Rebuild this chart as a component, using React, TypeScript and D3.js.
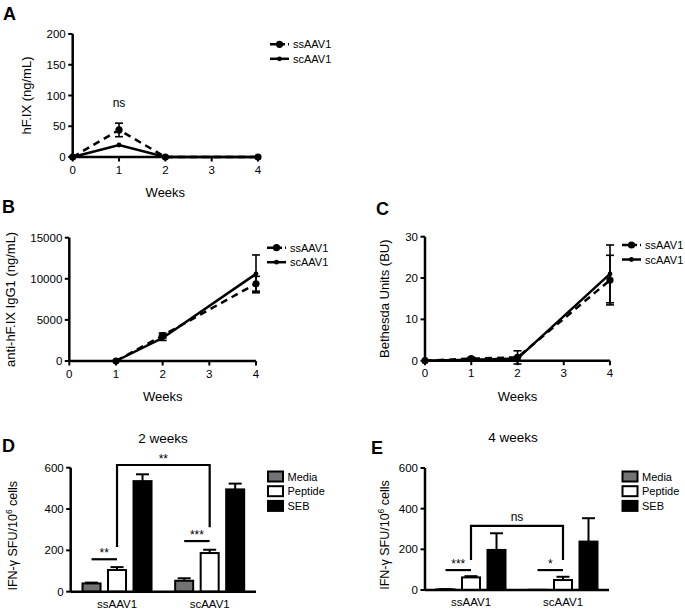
import React from 'react';
import * as d3 from 'd3';

const FONT = '"Liberation Sans", Arial, Helvetica, sans-serif';

// ---------- Line chart data ----------
const weekTicks = [0, 1, 2, 3, 4];
const seriesNames = ['ssAAV1', 'scAAV1'];

const aWeeks = [0, 1, 2, 4];
const aSs = [0, 44, 0, 0];
const aSsErr = [0, 11, 0, 0];
const aSc = [0, 19.5, 0, 0];
const aScErr = [0, 0, 0, 0];
const aYTicks = [0, 50, 100, 150, 200];

const bWeeks = [1, 2, 4];
const bSs = [0, 3100, 9400];
const bSsErr = [0, 300, 900];
const bSc = [0, 2800, 10600];
const bScErr = [0, 300, 2300];
const bYTicks = [0, 5000, 10000, 15000];

const cWeeks = [0, 1, 2, 4];
const cSs = [0, 0.5, 0.8, 19.5];
const cSsErr = [0, 0.3, 1.6, 6];
const cSc = [0, 0.2, 0.5, 21];
const cScErr = [0, 0.1, 0.5, 7];
const cYTicks = [0, 10, 20, 30];

// ---------- Bar chart data ----------
const groups = ['ssAAV1', 'scAAV1'];
const stimuli = ['Media', 'Peptide', 'SEB'];
const stimColors = ['#737373', '#ffffff', '#000000'];
const barYTicks = [0, 200, 400, 600];

const d2Media = [40, 53];
const d2MediaErr = [4, 12];
const d2Peptide = [105, 187];
const d2PeptideErr = [14, 16];
const d2SEB = [535, 495];
const d2SEBErr = [33, 28];

const d4Media = [3, 1];
const d4MediaErr = [1, 0];
const d4Peptide = [62, 49];
const d4PeptideErr = [6, 16];
const d4SEB = [197, 238];
const d4SEBErr = [82, 115];

// significance: within-group (Media vs Peptide) labels and levels
const d2Within = ['**', '***'];
const d2WithinLevel = [157, 245];
const d2Bracket = { label: '**', top: 613, left: 216, right: 312 };
const d4Within = ['***', '*'];
const d4WithinLevel = [98, 98];
const d4Bracket = { label: 'ns', top: 315, left: 148, right: 148 };

type Series = { x: number[]; y: number[]; err: number[]; dashed: boolean; big: boolean };

function LinePanel(props: {
  left: number; right: number; top: number; bottom: number;
  yMax: number; yTicks: number[]; series: Series[]; yLabel: string; yLabelX: number;
  legendX: number; legendY: number; letter: string; letterX: number; letterY: number;
  ns?: boolean;
}) {
  const { left, right, top, bottom, yMax, yTicks, series, yLabel, yLabelX, legendX, legendY, letter, letterX, letterY } = props;
  const x = d3.scaleLinear().domain([0, 4]).range([left, right]);
  const y = d3.scaleLinear().domain([0, yMax]).range([bottom, top]);
  return (
    <g>
      <text x={letterX} y={letterY} fontSize={18} fontWeight="bold" fontFamily={FONT}>{letter}</text>
      {/* axes */}
      <line x1={left} x2={left} y1={top} y2={bottom} stroke="#000" strokeWidth={2.5} />
      <line x1={left} x2={right} y1={bottom} y2={bottom} stroke="#000" strokeWidth={2.5} />
      {yTicks.map((t) => (
        <g key={'y' + t}>
          <line x1={left - 4.5} x2={left} y1={y(t)} y2={y(t)} stroke="#000" strokeWidth={2} />
          <text x={left - 7} y={y(t) + 4} textAnchor="end" fontSize={11.5} fontFamily={FONT}>{t}</text>
        </g>
      ))}
      {weekTicks.map((t) => (
        <g key={'x' + t}>
          <line x1={x(t)} x2={x(t)} y1={bottom} y2={bottom + 4.5} stroke="#000" strokeWidth={2} />
          <text x={x(t)} y={bottom + 16.5} textAnchor="middle" fontSize={11.5} fontFamily={FONT}>{t}</text>
        </g>
      ))}
      <text x={(left + right) / 2} y={bottom + 40} textAnchor="middle" fontSize={13} fontFamily={FONT}>Weeks</text>
      <text transform={`translate(${yLabelX},${(top + bottom) / 2}) rotate(-90)`} textAnchor="middle" fontSize={13} fontFamily={FONT}>{yLabel}</text>
      {series.map((s, si) => {
        const line = d3.line<number>().x((_, i) => x(s.x[i])).y((d) => y(d));
        return (
          <g key={'s' + si}>
            <path d={line(s.y) || ''} fill="none" stroke="#000" strokeWidth={2.5} strokeDasharray={s.dashed ? '7,5' : undefined} />
            {s.y.map((v, i) => (
              <g key={i}>
                {s.err[i] > 0 && (
                  <g stroke="#000" strokeWidth={1.6}>
                    <line x1={x(s.x[i])} x2={x(s.x[i])} y1={y(v - s.err[i])} y2={y(v + s.err[i])} />
                    <line x1={x(s.x[i]) - 4} x2={x(s.x[i]) + 4} y1={y(v + s.err[i])} y2={y(v + s.err[i])} />
                    <line x1={x(s.x[i]) - 4} x2={x(s.x[i]) + 4} y1={y(v - s.err[i])} y2={y(v - s.err[i])} />
                  </g>
                )}
                <circle cx={x(s.x[i])} cy={y(v)} r={s.big ? 3.6 : 2.4} fill="#000" />
              </g>
            ))}
          </g>
        );
      })}
      {props.ns && (
        <text x={x(1)} y={y(aSs[1] + aSsErr[1]) - 16} textAnchor="middle" fontSize={12} fontFamily={FONT}>ns</text>
      )}
      {seriesNames.map((n, i) => (
        <g key={n} transform={`translate(${legendX},${legendY + i * 14.5})`}>
          <line x1={0} x2={19} y1={0} y2={0} stroke="#000" strokeWidth={2.5} strokeDasharray={i === 0 ? '6,3' : undefined} />
          <circle cx={9.5} cy={0} r={i === 0 ? 3.6 : 2.4} fill="#000" />
          <text x={23} y={4} fontSize={11} fontFamily={FONT}>{n}</text>
        </g>
      ))}
    </g>
  );
}

function BarPanel(props: {
  left: number; right: number; top: number; bottom: number;
  values: number[][]; errs: number[][]; title: string; titleX: number; titleY: number;
  letter: string; letterX: number; letterY: number; yLabelX: number; legendX: number;
  within: string[]; withinLevel: number[]; bracket: { label: string; top: number; left: number; right: number };
}) {
  const { left, right, top, bottom, values, errs, within, withinLevel, bracket } = props;
  const xg = d3.scaleBand<string>().domain(groups).range([left, right]);
  const xs = d3.scalePoint<string>().domain(stimuli).range([-25.5, 25.5]);
  const y = d3.scaleLinear().domain([0, 600]).range([bottom, top]);
  const bw = 18;
  const gc = (g: string) => (xg(g) as number) + xg.bandwidth() / 2;
  const bx = (g: string, s: string) => gc(g) + (xs(s) as number);
  return (
    <g>
      <text x={props.letterX} y={props.letterY} fontSize={18} fontWeight="bold" fontFamily={FONT}>{props.letter}</text>
      <text x={props.titleX} y={props.titleY} textAnchor="middle" fontSize={13.5} fontFamily={FONT}>{props.title}</text>
      {groups.map((g, gi) =>
        stimuli.map((s, si) => {
          const v = values[si][gi];
          const e = errs[si][gi];
          const cx = bx(g, s);
          return (
            <g key={g + s}>
              {e > 0 && (
                <g stroke="#000" strokeWidth={2}>
                  <line x1={cx} x2={cx} y1={y(v)} y2={y(v + e)} />
                  <line x1={cx - 6.5} x2={cx + 6.5} y1={y(v + e)} y2={y(v + e)} />
                </g>
              )}
              <rect x={cx - bw / 2} y={y(v)} width={bw} height={Math.max(0.01, bottom - y(v))} fill={stimColors[si]} stroke="#000" strokeWidth={2} />
            </g>
          );
        })
      )}
      {/* axes */}
      <line x1={left} x2={left} y1={top} y2={bottom} stroke="#000" strokeWidth={2.5} />
      <line x1={left} x2={right} y1={bottom} y2={bottom} stroke="#000" strokeWidth={2.5} />
      {barYTicks.map((t) => (
        <g key={t}>
          <line x1={left - 4.5} x2={left} y1={y(t)} y2={y(t)} stroke="#000" strokeWidth={2} />
          <text x={left - 7} y={y(t) + 4} textAnchor="end" fontSize={11.5} fontFamily={FONT}>{t}</text>
        </g>
      ))}
      {groups.map((g) => (
        <text key={g} x={gc(g)} y={bottom + 16} textAnchor="middle" fontSize={11.5} fontFamily={FONT}>{g}</text>
      ))}
      <text transform={`translate(${props.yLabelX},${(top + bottom) / 2 + 6}) rotate(-90)`} textAnchor="middle" fontSize={12.5} fontFamily={FONT}>
        IFN-γ SFU/10<tspan dy={-5} fontSize={8.5}>6</tspan><tspan dy={5}> cells</tspan>
      </text>
      {/* within group significance */}
      {groups.map((g, gi) => {
        const x1 = bx(g, 'Media');
        const x2 = bx(g, 'Peptide');
        const yy = y(withinLevel[gi]);
        return (
          <g key={'w' + g}>
            <line x1={x1} x2={x2} y1={yy} y2={yy} stroke="#000" strokeWidth={2.2} />
            <text x={(x1 + x2) / 2} y={yy - 2} textAnchor="middle" fontSize={12} fontFamily={FONT}>{within[gi]}</text>
          </g>
        );
      })}
      {/* bracket */}
      {(() => {
        const x1 = bx(groups[0], 'Peptide');
        const x2 = bx(groups[1], 'Peptide');
        const path = d3.path();
        path.moveTo(x1, y(bracket.left));
        path.lineTo(x1, y(bracket.top));
        path.lineTo(x2, y(bracket.top));
        path.lineTo(x2, y(bracket.right));
        const isNs = bracket.label === 'ns';
        return (
          <g>
            <path d={path.toString()} fill="none" stroke="#000" strokeWidth={2.2} />
            <text x={(x1 + x2) / 2} y={y(bracket.top) - (isNs ? 5 : 2)} textAnchor="middle" fontSize={12} fontFamily={FONT}>{bracket.label}</text>
          </g>
        );
      })()}
      {stimuli.map((s, i) => (
        <g key={s} transform={`translate(${props.legendX},${471.5 + i * 14.7})`}>
          <rect x={0} y={0} width={15} height={10} fill={stimColors[i]} stroke="#000" strokeWidth={2} />
          <text x={19.5} y={9} fontSize={11} fontFamily={FONT}>{s}</text>
        </g>
      ))}
    </g>
  );
}

export default function App() {
  return (
    <svg width={685} height={610} style={{ position: 'absolute', left: 0, top: 0, background: '#fff' }}>
      <rect width={685} height={610} fill="#fff" />
      <LinePanel left={72.7} right={258} top={34} bottom={157} yMax={200} yTicks={aYTicks}
        series={[
          { x: aWeeks, y: aSs, err: aSsErr, dashed: true, big: true },
          { x: aWeeks, y: aSc, err: aScErr, dashed: false, big: false },
        ]}
        yLabel="hF.IX (ng/mL)" yLabelX={31} legendX={270} legendY={44.3} letter="A" letterX={3} letterY={20} ns />
      <LinePanel left={69.3} right={256} top={237.7} bottom={361} yMax={15000} yTicks={bYTicks}
        series={[
          { x: bWeeks, y: bSs, err: bSsErr, dashed: true, big: true },
          { x: bWeeks, y: bSc, err: bScErr, dashed: false, big: false },
        ]}
        yLabel="anti-hF.IX IgG1 (ng/mL)" yLabelX={15} legendX={267} legendY={247.7} letter="B" letterX={2} letterY={213} />
      <LinePanel left={425} right={610} top={236.7} bottom={360.7} yMax={30} yTicks={cYTicks}
        series={[
          { x: cWeeks, y: cSs, err: cSsErr, dashed: true, big: true },
          { x: cWeeks, y: cSc, err: cScErr, dashed: false, big: false },
        ]}
        yLabel="Bethesda Units (BU)" yLabelX={389} legendX={622} legendY={245} letter="C" letterX={376} letterY={215} />
      <BarPanel left={70.7} right={256} top={467.7} bottom={591.7}
        values={[d2Media, d2Peptide, d2SEB]} errs={[d2MediaErr, d2PeptideErr, d2SEBErr]}
        title="2 weeks" titleX={163} titleY={442.5} letter="D" letterX={2} letterY={451.5}
        yLabelX={17} legendX={268} within={d2Within} withinLevel={d2WithinLevel} bracket={d2Bracket} />
      <BarPanel left={425} right={609} top={468} bottom={590}
        values={[d4Media, d4Peptide, d4SEB]} errs={[d4MediaErr, d4PeptideErr, d4SEBErr]}
        title="4 weeks" titleX={513} titleY={441.7} letter="E" letterX={371} letterY={454}
        yLabelX={389} legendX={622.5} within={d4Within} withinLevel={d4WithinLevel} bracket={d4Bracket} />
    </svg>
  );
}
